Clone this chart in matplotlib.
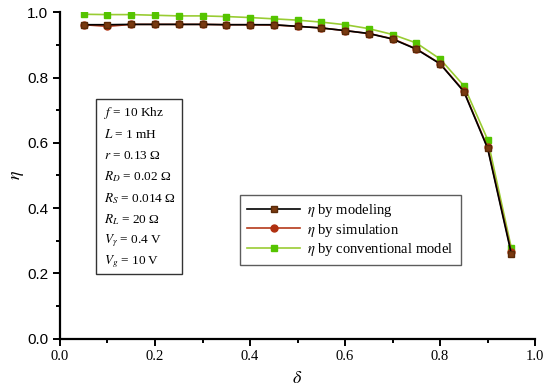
import matplotlib
matplotlib.use("Agg")
import matplotlib.pyplot as plt
from matplotlib.ticker import MultipleLocator
from matplotlib.patches import Rectangle

delta = [0.05, 0.10, 0.15, 0.20, 0.25, 0.30, 0.35, 0.40, 0.45, 0.50,
         0.55, 0.60, 0.65, 0.70, 0.75, 0.80, 0.85, 0.90, 0.95]
eta_modeling = [0.962, 0.962, 0.963, 0.963, 0.963, 0.963, 0.962, 0.962, 0.962, 0.957,
                0.952, 0.944, 0.935, 0.918, 0.887, 0.842, 0.757, 0.583, 0.259]
eta_simulation = [0.962, 0.957, 0.963, 0.963, 0.963, 0.963, 0.962, 0.962, 0.961, 0.957,
                  0.952, 0.944, 0.935, 0.919, 0.888, 0.843, 0.759, 0.586, 0.264]
eta_conventional = [0.994, 0.993, 0.993, 0.991, 0.989, 0.989, 0.987, 0.984, 0.980, 0.976,
                    0.970, 0.962, 0.950, 0.932, 0.906, 0.857, 0.775, 0.610, 0.277]
series_labels = [r"$\eta$ by modeling", r"$\eta$ by simulation", r"$\eta$ by conventional model"]
params = [r"$f$ = 10 Khz", r"$L$ = 1 mH", r"$r$ = 0.13 Ω", r"$R_D$ = 0.02 Ω",
          r"$R_S$ = 0.014 Ω", r"$R_L$ = 20 Ω", r"$V_\gamma$ = 0.4 V", r"$V_g$ = 10 V"]

plt.rcParams['mathtext.fontset'] = 'stix'
fig = plt.figure(figsize=(5.5, 3.91), dpi=100)
ax = fig.add_axes([0.109, 0.134, 0.864, 0.8345])

ax.plot(delta, eta_conventional, color='#99cc33', lw=1.2, marker='s', ms=4.5,
        mfc='#55c400', mec='#55c400', label=series_labels[2], zorder=2)
ax.plot(delta, eta_simulation, color='#b5391a', lw=1.2, marker='o', ms=5,
        mfc='#b03010', mec='#b03010', label=series_labels[1], zorder=3)
ax.plot(delta, eta_modeling, color='black', lw=1.2, marker='s', ms=4,
        mfc='#7a3a10', mec='#5a2a08', label=series_labels[0], zorder=4)

ax.set_xlim(0, 1.0)
ax.set_ylim(0, 1.0)
ax.spines['top'].set_visible(False)
ax.spines['right'].set_visible(False)
for s in ('left', 'bottom'):
    ax.spines[s].set_linewidth(1.6)
ax.xaxis.set_major_locator(MultipleLocator(0.2))
ax.xaxis.set_minor_locator(MultipleLocator(0.1))
ax.yaxis.set_major_locator(MultipleLocator(0.2))
ax.yaxis.set_minor_locator(MultipleLocator(0.1))
ax.tick_params(which='major', direction='out', length=5, width=1.4)
ax.tick_params(which='minor', direction='out', length=3, width=1.4)
ax.set_xticklabels([f"{v:.1f}" for v in ax.get_xticks()], family='Liberation Serif', fontsize=10.5)
ax.set_yticklabels([f"{v:.1f}" for v in ax.get_yticks()], family='Liberation Sans', fontsize=11)
ax.set_xlabel(r"$\delta$", fontsize=13, labelpad=4)
ax.set_ylabel(r"$\eta$", fontsize=13, labelpad=1)

handles, labels = ax.get_legend_handles_labels()
order = [2, 1, 0]
leg = ax.legend([handles[i] for i in order], [labels[i] for i in order],
                loc='upper left', bbox_to_anchor=(0.379, 0.44), borderaxespad=0,
                frameon=True, fancybox=False, edgecolor='#333333',
                prop={'family': 'Liberation Serif', 'size': 10.5},
                handlelength=3.6, borderpad=0.5, labelspacing=0.15, handletextpad=0.5)
leg.get_frame().set_linewidth(1.0)

# parameter box
x0, y0 = 96, 99
x1, y1 = 182, 274
W, H = 550, 391
rect = Rectangle((x0 / W, 1 - y1 / H), (x1 - x0) / W, (y1 - y0) / H,
                 transform=fig.transFigure, fill=False, edgecolor='#333333', lw=1.0)
fig.patches.append(rect)
for i, t in enumerate(params):
    yy = 113 + i * 21.3
    fig.text(104 / W, 1 - yy / H, t, family='Liberation Serif', fontsize=9.5, va='center', ha='left')

fig.savefig("out.png", dpi=100)
